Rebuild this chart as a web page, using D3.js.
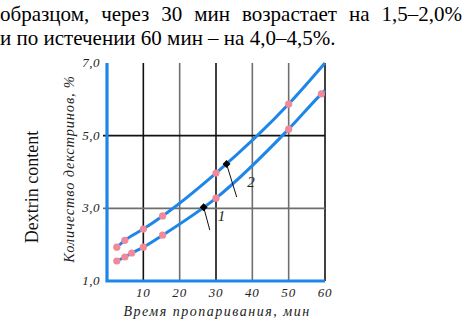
<!DOCTYPE html>
<html>
<head>
<meta charset="utf-8">
<script src="https://cdn.jsdelivr.net/npm/d3@7"></script>
<style>
  body { margin: 0; background: #fff; }
  svg { display: block; }
</style>
</head>
<body>
<div id="chart"></div>
<script>
const textLines = [
  "образцом, через 30 мин возрастает на 1,5–2,0%",
  "и по истечении 60 мин – на 4,0–4,5%."
]
const xTicks = [10, 20, 30, 40, 50, 60]
const yTicks = [1, 3, 5, 7]
// markers: [time, dextrin %]
const curve1Points = [[2.7, 1.55], [4.9, 1.66], [6.8, 1.77], [10, 1.93], [15.3, 2.26], [30, 3.28], [50, 5.18], [59, 6.15]]
const curve1End = [60, 6.25]
const curve2Points = [[2.7, 1.93], [4.9, 2.12], [10, 2.43], [15.3, 2.79], [30, 3.97], [50, 5.87]]
const curve2End = [60, 7.0]
// black label markers and where their leader lines end
const labelMarks = [
  { name: "1", at: [26.6, 3.03], tip: [28.3, 2.4], text: [31.5, 2.65] },
  { name: "2", at: [32.9, 4.22], tip: [35.7, 3.31], text: [39.6, 3.6] }
]
const darkGrid = [10, 30, 60]

const W = 464, H = 323
const PLOT = { LEFT: 107, RIGHT: 325, TOP: 63, BOTTOM: 281 }
const BLUE = "#1e86e8"
const PINK = "#f2899a"
const SERIF = "'Liberation Serif', 'Times New Roman', 'DejaVu Serif', serif"

const svg = d3.select("#chart").append("svg")
  .attr("width", W)
  .attr("height", H)

// paragraph text above the figure (first line is justified in the book)
const para = svg.selectAll("text.para")
  .data(textLines)
  .join("text")
  .attr("class", "para")
  .attr("x", 0)
  .attr("y", (d, i) => 21 + i * 24)
  .attr("font-family", SERIF)
  .attr("font-size", 21)
  .text(d => d)

// spread the first line's words so it runs right up to the edge
const first = para.filter((d, i) => i === 0)
const gap = (W - 2 - first.node().getComputedTextLength()) / (textLines[0].split(" ").length - 1)
first.attr("word-spacing", Math.max(0, gap))

const x = d3.scaleLinear().domain([0, 60]).range([PLOT.LEFT, PLOT.RIGHT])
const y = d3.scaleLinear().domain([1, 7]).range([PLOT.BOTTOM, PLOT.TOP])

// vertical grid
svg.selectAll("line.vgrid")
  .data(xTicks)
  .join("line")
  .attr("x1", d => x(d)).attr("x2", d => x(d))
  .attr("y1", y(7)).attr("y2", y(1))
  .attr("stroke", d => darkGrid.includes(d) ? "#111" : "#6e6e6e")
  .attr("stroke-width", 1.6)

// horizontal grid
svg.selectAll("line.hgrid")
  .data([3, 5])
  .join("line")
  .attr("x1", x(0) - 4).attr("x2", x(60))
  .attr("y1", d => y(d)).attr("y2", d => y(d))
  .attr("stroke", d => d === 5 ? "#111" : "#6e6e6e")
  .attr("stroke-width", 1.6)

// blue axes
svg.append("path")
  .attr("d", `M${x(0)},${y(7)}V${y(1)}H${x(60)}`)
  .attr("fill", "none")
  .attr("stroke", BLUE)
  .attr("stroke-width", 3.2)

// tick labels
svg.selectAll("text.ytick")
  .data(yTicks)
  .join("text")
  .attr("x", x(0) - 7)
  .attr("y", d => y(d) + 4)
  .attr("text-anchor", "end")
  .attr("font-family", SERIF)
  .attr("font-style", "italic")
  .attr("font-size", 13)
  .attr("letter-spacing", 0.5)
  .attr("fill", "#222")
  .text(d => d3.format(".1f")(d).replace(".", ","))

svg.selectAll("text.xtick")
  .data(xTicks)
  .join("text")
  .attr("x", d => x(d))
  .attr("y", y(1) + 16)
  .attr("text-anchor", "middle")
  .attr("font-family", SERIF)
  .attr("font-style", "italic")
  .attr("font-size", 13)
  .attr("letter-spacing", 0.8)
  .attr("fill", "#222")
  .text(d => d)

svg.append("text")
  .attr("x", 217)
  .attr("y", 316)
  .attr("text-anchor", "middle")
  .attr("font-family", SERIF)
  .attr("font-style", "italic")
  .attr("font-size", 14)
  .attr("letter-spacing", 1.5)
  .attr("fill", "#222")
  .text("Время пропаривания, мин")

svg.append("text")
  .attr("transform", "translate(74,169) rotate(-90)")
  .attr("text-anchor", "middle")
  .attr("font-family", SERIF)
  .attr("font-style", "italic")
  .attr("font-size", 14.5)
  .attr("letter-spacing", 0.8)
  .attr("fill", "#222")
  .text("Количество декстринов, %")

svg.append("text")
  .attr("transform", "translate(38,187) rotate(-90)")
  .attr("text-anchor", "middle")
  .attr("font-family", SERIF)
  .attr("font-size", 18)
  .attr("fill", "#111")
  .text("Dextrin content")

// curves
const line = d3.line()
  .x(d => x(d[0]))
  .y(d => y(d[1]))
  .curve(d3.curveMonotoneX)

;[curve1Points.concat([curve1End]), curve2Points.concat([curve2End])].forEach(pts => {
  svg.append("path")
    .datum(pts)
    .attr("d", line)
    .attr("fill", "none")
    .attr("stroke", BLUE)
    .attr("stroke-width", 3)
})

svg.selectAll("circle.pt")
  .data(curve1Points.concat(curve2Points))
  .join("circle")
  .attr("cx", d => x(d[0]))
  .attr("cy", d => y(d[1]))
  .attr("r", 3.6)
  .attr("fill", PINK)

// label leaders
labelMarks.forEach(m => {
  svg.append("line")
    .attr("x1", x(m.at[0])).attr("y1", y(m.at[1]))
    .attr("x2", x(m.tip[0])).attr("y2", y(m.tip[1]))
    .attr("stroke", "#111")
    .attr("stroke-width", 1)
  svg.append("path")
    .attr("transform", `translate(${x(m.at[0])},${y(m.at[1])})`)
    .attr("d", d3.symbol(d3.symbolDiamond2, 40)())
    .attr("fill", "#000")
  svg.append("text")
    .attr("x", x(m.text[0]))
    .attr("y", y(m.text[1]))
    .attr("text-anchor", "middle")
    .attr("font-family", SERIF)
    .attr("font-style", "italic")
    .attr("font-size", 15)
    .attr("fill", "#222")
    .text(m.name)
})
</script>
</body>
</html>
